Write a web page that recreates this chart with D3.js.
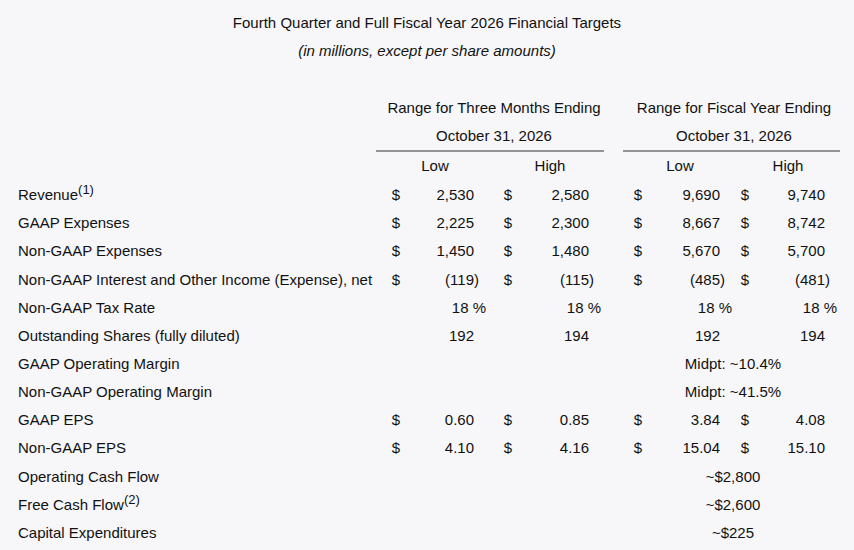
<!DOCTYPE html>
<html><head><meta charset="utf-8">
<script src="https://cdn.jsdelivr.net/npm/d3@7"></script>
<style>
body{margin:0;background:#f7f7f9;}
text{font-family:"Liberation Sans",Arial,sans-serif;font-size:15px;fill:#111;}
</style></head><body>
<script>
var rowLabels = ['Revenue', 'GAAP Expenses', 'Non-GAAP Expenses',
  'Non-GAAP Interest and Other Income (Expense), net', 'Non-GAAP Tax Rate',
  'Outstanding Shares (fully diluted)', 'GAAP Operating Margin',
  'Non-GAAP Operating Margin', 'GAAP EPS', 'Non-GAAP EPS',
  'Operating Cash Flow', 'Free Cash Flow', 'Capital Expenditures'];
var footnotes = {'Revenue': '(1)', 'Free Cash Flow': '(2)'};
var q4Low = ['2,530', '2,225', '1,450', '(119)', '18 %', '192', null, null, '0.60', '4.10', null, null, null];
var q4High = ['2,580', '2,300', '1,480', '(115)', '18 %', '194', null, null, '0.85', '4.16', null, null, null];
var fyLow = ['9,690', '8,667', '5,670', '(485)', '18 %', '192', null, null, '3.84', '15.04', null, null, null];
var fyHigh = ['9,740', '8,742', '5,700', '(481)', '18 %', '194', null, null, '4.08', '15.10', null, null, null];
var hasDollar = [true, true, true, true, false, false, false, false, true, true, false, false, false];
var fySingle = [null, null, null, null, null, null, 'Midpt: ~10.4%', 'Midpt: ~41.5%', null, null, '~$2,800', '~$2,600', '~$225'];

var svg = d3.select('body').append('svg').attr('width', 854).attr('height', 550);

var y = d3.scaleBand().domain(d3.range(rowLabels.length)).range([181, 547]);

svg.append('text').attr('x', 427).attr('y', 28).attr('text-anchor', 'middle')
  .text('Fourth Quarter and Full Fiscal Year 2026 Financial Targets');
svg.append('text').attr('x', 427).attr('y', 56).attr('text-anchor', 'middle')
  .style('font-style', 'italic').text('(in millions, except per share amounts)');

var groups = [
  {title: 'Range for Three Months Ending', cx: 494, x0: 376, x1: 604,
   cols: [{name: 'Low', cx: 435, dollar: 396, right: 474, data: q4Low},
          {name: 'High', cx: 550, dollar: 508, right: 589, data: q4High}]},
  {title: 'Range for Fiscal Year Ending', cx: 734, x0: 623, x1: 840,
   cols: [{name: 'Low', cx: 680, dollar: 638, right: 720, data: fyLow},
          {name: 'High', cx: 788, dollar: 745, right: 825, data: fyHigh}]}
];

groups.forEach(function(g) {
  svg.append('text').attr('x', g.cx).attr('y', 113).attr('text-anchor', 'middle').text(g.title);
  svg.append('text').attr('x', g.cx).attr('y', 141).attr('text-anchor', 'middle').text('October 31, 2026');
  svg.append('line').attr('x1', g.x0).attr('x2', g.x1).attr('y1', 151).attr('y2', 151)
    .attr('stroke', '#333').attr('stroke-width', 1);
  g.cols.forEach(function(c) {
    svg.append('text').attr('x', c.cx).attr('y', 171).attr('text-anchor', 'middle').text(c.name);
    var cells = svg.append('g').selectAll('g').data(c.data).enter().append('g')
      .attr('transform', function(d, i) { return 'translate(0,' + (y(i) + y.bandwidth() / 2 + 5) + ')'; });
    cells.filter(function(d, i) { return hasDollar[i]; }).append('text')
      .attr('x', c.dollar).attr('text-anchor', 'middle').text('$');
    cells.filter(function(d) { return d; }).append('text')
      .attr('x', function(d) { return /%/.test(d) ? c.right + 12 : /\)/.test(d) ? c.right + 5 : c.right; })
      .attr('text-anchor', 'end').text(function(d) { return d; });
  });
});

var labels = svg.append('g').selectAll('text').data(rowLabels).enter().append('text')
  .attr('x', 18).attr('y', function(d, i) { return y(i) + y.bandwidth() / 2 + 5; })
  .text(function(d) { return d; });
labels.filter(function(d) { return footnotes[d]; }).append('tspan')
  .attr('dy', -6).style('font-size', '13px').text(function(d) { return footnotes[d]; });

svg.append('g').selectAll('text').data(fySingle).enter().append('text')
  .filter(function(d) { return d; })
  .attr('x', 733).attr('text-anchor', 'middle')
  .attr('y', function(d) { return y(fySingle.indexOf(d)) + y.bandwidth() / 2 + 5; })
  .text(function(d) { return d; });
</script>
</body></html>
